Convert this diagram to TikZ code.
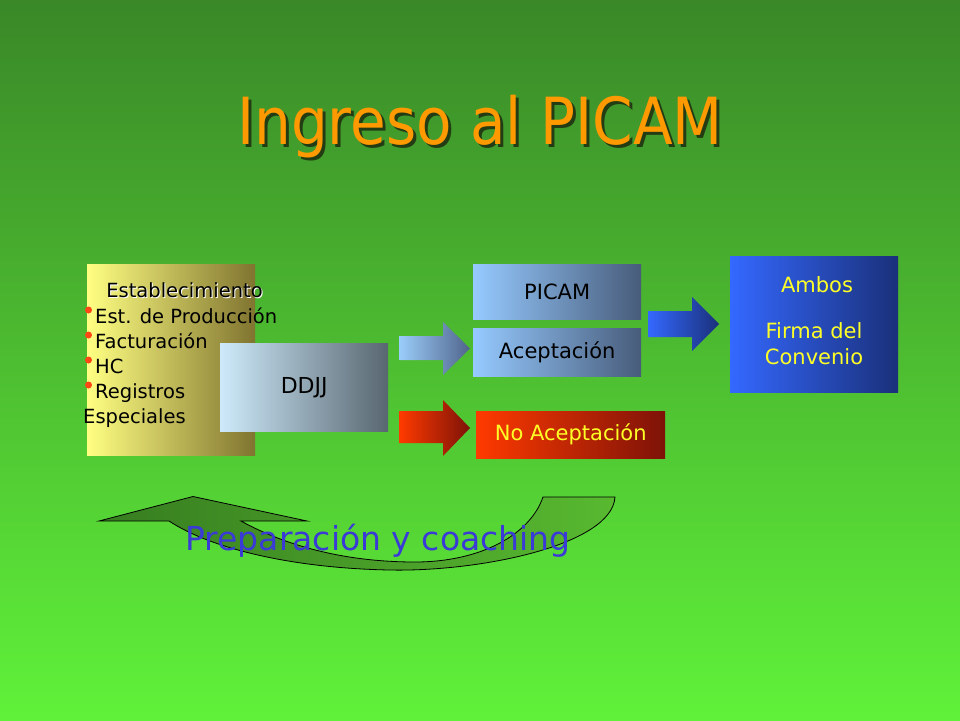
\documentclass[tikz,border=0pt]{standalone}
\usepackage{fontspec}
\setmainfont{DejaVu Sans}
\definecolor{bgtop}{RGB}{58,136,40}
\definecolor{bgbot}{RGB}{96,242,58}
\definecolor{titleor}{RGB}{255,153,0}
\definecolor{titlesh}{RGB}{35,60,20}
\definecolor{estL}{RGB}{255,255,130}
\definecolor{estR}{RGB}{128,116,48}
\definecolor{ddL}{RGB}{206,234,250}
\definecolor{ddR}{RGB}{88,102,112}
\definecolor{pcL}{RGB}{150,202,255}
\definecolor{pcR}{RGB}{72,92,122}
\definecolor{a1L}{RGB}{155,205,250}
\definecolor{a1R}{RGB}{80,100,140}
\definecolor{rdL}{RGB}{255,58,0}
\definecolor{rdR}{RGB}{125,18,8}
\definecolor{blL}{RGB}{52,104,255}
\definecolor{blR}{RGB}{26,48,122}
\definecolor{cvL}{RGB}{55,125,32}
\definecolor{cvR}{RGB}{88,185,48}
\definecolor{prep}{RGB}{58,58,215}
\definecolor{bullet}{RGB}{255,70,20}
\definecolor{yel}{RGB}{255,255,40}
\tikzset{
  box/.style={anchor=north west, inner sep=0pt, draw=none},
  listtxt/.style={anchor=base west, inner sep=0pt, font=\fontsize{19.5}{20}\selectfont, text=black},
  boxtxt/.style={inner sep=0pt, font=\fontsize{21}{22}\selectfont},
  bul/.style={circle, fill=bullet, inner sep=0pt, minimum size=7pt},
  titletxt/.style={font=\fontsize{58}{60}\selectfont, yscale=1.12, transform shape}
}
\begin{document}
\begin{tikzpicture}[x=1pt,y=-1pt]
\useasboundingbox (0,0) rectangle (960,720);
\shade[top color=bgtop, bottom color=bgbot] (0,0) rectangle (960,720);

% title
\node[titletxt, text=titlesh] (titlesh) at (483,130) {Ingreso al PICAM};
\node[titletxt, text=titleor] (title) at (480,127) {Ingreso al PICAM};

% Establecimiento box
\node[box, left color=estL, right color=estR, minimum width=168pt, minimum height=191pt] (est) at (87,264) {};
\node[listtxt, text=white, anchor=base] (esthsh) at (185.5,298) {Establecimiento};
\node[listtxt, anchor=base] (esth) at (184.5,297) {Establecimiento};
\node[listtxt] (l1) at (95,323) {Est. de Producción};
\node[listtxt] (l2) at (95,348) {Facturación};
\node[listtxt] (l3) at (95,373) {HC};
\node[listtxt] (l4) at (95,398) {Registros};
\node[listtxt] (l5) at (83,423) {Especiales};
\node[bul] (b1) at (88.5,310) {};
\node[bul] (b2) at (88.5,335) {};
\node[bul] (b3) at (88.5,360) {};
\node[bul] (b4) at (88.5,385) {};

% DDJJ
\node[box, left color=ddL, right color=ddR, minimum width=168pt, minimum height=88pt] (ddjj) at (220,343) {};
\node[boxtxt, font=\fontsize{22}{23}\selectfont] (ddjjt) at (ddjj.center) {DDJJ};

% arrows
\shade[left color=a1L, right color=a1R] (399,336) -- (443,336) -- (443,322) -- (470,348.5) -- (443,375) -- (443,360) -- (399,360) -- cycle;
\shade[left color=rdL, right color=rdR] (399,411) -- (443,411) -- (443,400) -- (470,428) -- (443,456) -- (443,443) -- (399,443) -- cycle;
\shade[left color=blL, right color=blR] (648,311) -- (692,311) -- (692,297) -- (719,324) -- (692,351) -- (692,337) -- (648,337) -- cycle;

% PICAM / Aceptación / No aceptación
\node[box, left color=pcL, right color=pcR, minimum width=168pt, minimum height=55pt] (picam) at (473,264) {};
\node[boxtxt] (picamt) at (picam.center) {PICAM};
\node[box, left color=pcL, right color=pcR, minimum width=168pt, minimum height=48pt] (acep) at (473,328) {};
\node[boxtxt] (acept) at (acep.center) {Aceptación};
\node[box, left color=rdL, right color=rdR, minimum width=189pt, minimum height=47pt] (noac) at (476,411) {};
\node[boxtxt, text=yel] (noact) at (noac.center) {No Aceptación};

% Ambos
\node[box, left color=blL, right color=blR, minimum width=168pt, minimum height=136pt] (amb) at (730,256) {};
\node[boxtxt, text=yel, anchor=base] (amb1) at (817,292) {Ambos};
\node[boxtxt, text=yel, anchor=base] (amb2) at (814,338) {Firma del};
\node[boxtxt, text=yel, anchor=base] (amb3) at (814,364) {Convenio};

% curved arrow
\shade[left color=cvL, right color=cvR, draw=black, line width=0.8pt]
  (99,521) -- (193,496.5) -- (307,521) -- (241,521)
  .. controls (290,548) and (350,562) .. (415,562)
  .. controls (480,562) and (530,535) .. (543,497)
  -- (615,497)
  .. controls (612,545) and (480,572) .. (389,570)
  .. controls (290,568) and (210,548) .. (169,521) -- cycle;
\node[font=\fontsize{33}{34}\selectfont, text=prep] (prept) at (378,541) {Preparación y coaching};
\end{tikzpicture}
\end{document}
